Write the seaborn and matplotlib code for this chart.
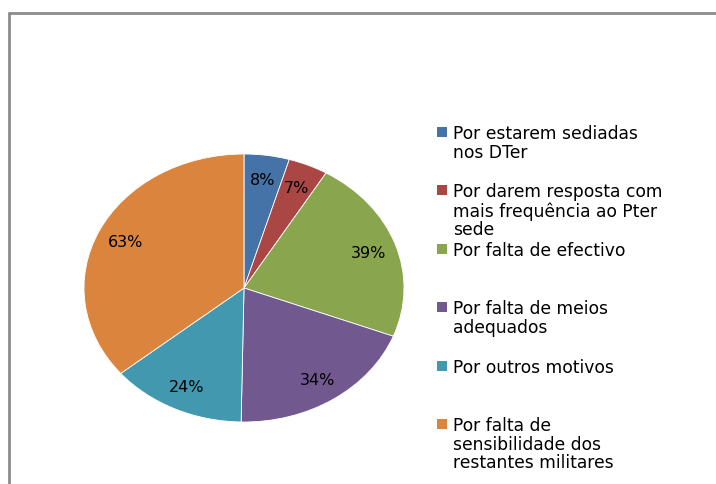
import matplotlib
matplotlib.use("Agg")
import matplotlib.pyplot as plt
from matplotlib.patches import Rectangle
from matplotlib.lines import Line2D
import seaborn as sns

sns.set_theme(style="white")
plt.rcParams['font.family'] = ['DejaVu Sans']

categories = ["Por estarem sediadas\nnos DTer",
              "Por darem resposta com\nmais frequência ao Pter\nsede",
              "Por falta de efectivo",
              "Por falta de meios\nadequados",
              "Por outros motivos",
              "Por falta de\nsensibilidade dos\nrestantes militares"]
values = [8, 7, 39, 34, 24, 63]
palette = sns.color_palette(['#4572A7', '#AA4643', '#89A54E', '#71588F', '#4198AF', '#DB843D'])

W, H = 716, 485
fig = plt.figure(figsize=(W / 100, H / 100), dpi=100)

# elliptical pie: centre (244, 289), semi-axes 160 x 134 px
cx, cy, rx, ry = 244, 289, 160, 134
ax = fig.add_axes([(cx - rx) / W, (H - cy - ry) / H, 2 * rx / W, 2 * ry / H])

wedges, texts, autotexts = ax.pie(values, colors=palette, startangle=90, counterclock=False,
                                  autopct=lambda p: '{:.0f}%'.format(p * sum(values) / 100),
                                  pctdistance=0.82, radius=1,
                                  wedgeprops=dict(edgecolor='white', linewidth=0.6),
                                  textprops=dict(fontsize=11.5, color='black'))
ax.set_aspect('auto')
ax.set_xlim(-1, 1)
ax.set_ylim(-1, 1)
ax.axis('off')

# legend, Excel style: evenly spaced slots, marker at first line
lx, top, step = 453, 133, 58.4
for i, (lab, col) in enumerate(zip(categories, palette)):
    y = top + i * step
    fig.patches.append(Rectangle(((lx - 16) / W, (H - y - 5) / H), 10 / W, 10 / H,
                                 transform=fig.transFigure, facecolor=col, edgecolor='none'))
    fig.text(lx / W, (H - y + 8) / H, lab, ha='left', va='top', fontsize=12.3,
             linespacing=1.05, color='black')

# outer gray frame
fig.add_artist(Line2D([9 / W, 9 / W], [0, (H - 14) / H], color='#8c8c8c', lw=2))
fig.add_artist(Line2D([9 / W, 1], [(H - 14) / H, (H - 14) / H], color='#8c8c8c', lw=2))

fig.savefig('out.png', dpi=100, facecolor='white')
